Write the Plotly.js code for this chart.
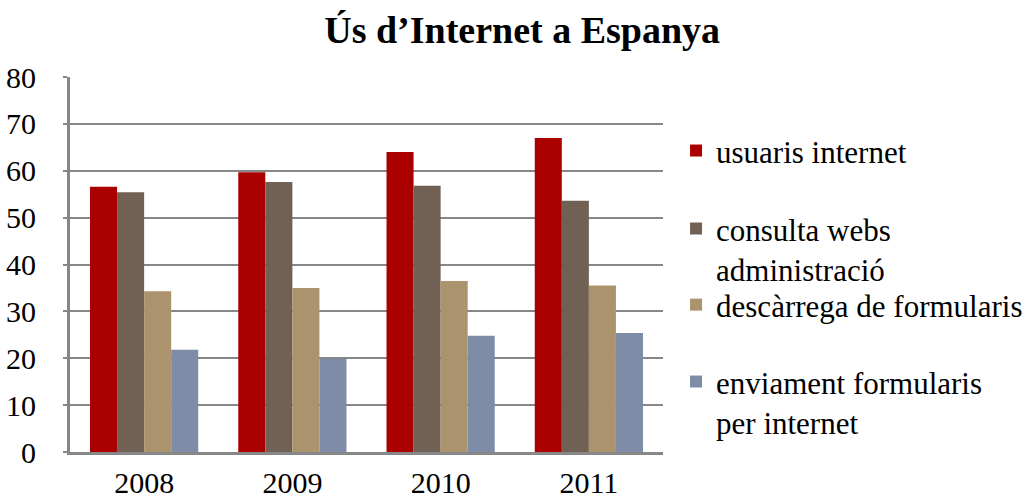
<!DOCTYPE html>
<html>
<head>
<meta charset="utf-8">
<script src="https://cdn.plot.ly/plotly-3.0.1.min.js"></script>
<style>html,body{margin:0;padding:0;background:#fff;}#chart{width:1032px;height:502px;}</style>
</head>
<body>
<div id="chart"></div>
<script>
const years = ['2008', '2009', '2010', '2011'];
const seriesNames = ['usuaris internet', 'consulta webs<br>administració', 'descàrrega de formularis', 'enviament formularis<br>per internet'];
const usuaris = [56.6, 59.7, 64.0, 67.0];
const consulta = [55.4, 57.6, 56.8, 53.6];
const descarrega = [34.3, 35.0, 36.5, 35.5];
const enviament = [21.8, 19.9, 24.8, 25.4];
const colors = ['#AA0000', '#716155', '#AB936D', '#7F8CA8'];

const values = [usuaris, consulta, descarrega, enviament];
const legendIds = ['legend', 'legend2', 'legend3', 'legend4'];
const traces = values.map((v, i) => ({
  type: 'bar', x: years, y: v, name: seriesNames[i],
  marker: {color: colors[i], line: {width: 0}},
  legend: legendIds[i]
}));

const fontFam = 'Liberation Serif';
function legendAt(yPos) {
  return {x: 1.022, xanchor: 'left', y: yPos, yanchor: 'top',
    font: {family: fontFam, size: 31, color: '#000'},
    bgcolor: 'rgba(0,0,0,0)', itemwidth: 30, valign: 'top'};
}
const layout = {
  width: 1032, height: 502,
  font: {family: fontFam, size: 31, color: '#000'},
  margin: {l: 70, r: 369, t: 77, b: 50, autoexpand: false},
  paper_bgcolor: '#fff', plot_bgcolor: '#fff',
  title: {text: '<b>Ús d’Internet a Espanya</b>', font: {family: fontFam, size: 38, color: '#000'}, x: 0.506, xanchor: 'center', y: 0.94, yanchor: 'middle'},
  barmode: 'group', bargap: 0.27, bargroupgap: 0,
  xaxis: {showline: true, linecolor: '#878787', linewidth: 3, ticks: '', tickfont: {family: fontFam, size: 30, color: '#000'}, showgrid: false, ticklabelstandoff: 2},
  yaxis: {range: [0, 80], dtick: 10, showline: true, linecolor: '#878787', linewidth: 3, gridcolor: '#878787', gridwidth: 2, ticks: 'outside', ticklen: 4, tickwidth: 2, tickcolor: '#878787', tickfont: {family: fontFam, size: 30, color: '#000'}, zeroline: false, ticklabelstandoff: 21},
  legend: legendAt(0.875),
  legend2: legendAt(0.667),
  legend3: legendAt(0.464),
  legend4: legendAt(0.259),
  showlegend: true
};
Plotly.newPlot('chart', traces, layout, {staticPlot: true});
</script>
</body>
</html>
